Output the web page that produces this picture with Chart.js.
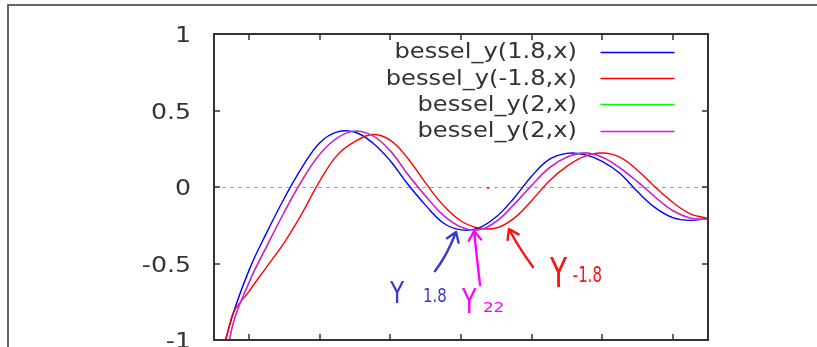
<!DOCTYPE html>
<html>
<head>
<meta charset="utf-8">
<script src="https://cdn.jsdelivr.net/npm/chart.js@4.4.1/dist/chart.umd.min.js"></script>
<style>
  html, body { margin: 0; padding: 0; background: #fff; overflow: hidden; }
  canvas { display: block; }
</style>
</head>
<body>
<canvas id="plot" width="817" height="347"></canvas>
<script>
// sample positions along x and the curve values read at them
const xs = [1, 1.5, 2, 2.5, 3, 3.5, 4, 4.5, 5, 5.5, 6, 6.5, 7, 7.5, 8, 8.5, 9, 9.5, 10,
            10.5, 11, 11.5, 12, 12.5, 13, 13.5, 14, 14.5, 15]
const y18 = [-1.3, -0.86, -0.54, -0.295, -0.07, 0.13, 0.29, 0.36, 0.358, 0.288, 0.17, 0.016, -0.12, -0.235,
             -0.28, -0.268, -0.195, -0.073, 0.07, 0.18, 0.22, 0.212, 0.168, 0.09, -0.03, -0.135, -0.2, -0.218, -0.205]
const yMinus18 = [-1.45, -0.85, -0.68, -0.52, -0.36, -0.17, 0.04, 0.21, 0.298, 0.343, 0.305, 0.185, 0.025, -0.12,
                  -0.222, -0.268, -0.268, -0.205, -0.09, 0.04, 0.135, 0.2, 0.222, 0.195, 0.11, 0.0, -0.1, -0.175, -0.205]
const y2 = [-1.65, -0.93, -0.62, -0.385, -0.16, 0.045, 0.215, 0.322, 0.365, 0.335, 0.235, 0.08, -0.06, -0.185,
            -0.262, -0.28, -0.225, -0.115, 0.01, 0.125, 0.195, 0.222, 0.195, 0.125, 0.035, -0.065, -0.155, -0.203, -0.211]

const seriesLabels = ['bessel_y(1.8,x)', 'bessel_y(-1.8,x)', 'bessel_y(2,x)', 'bessel_y(2,x)']
const seriesColors = ['#0000ff', '#ff0000', '#00ff00', '#ff00ff']
const seriesValues = [y18, yMinus18, y2, y2]

const xTicks = [2, 4, 6, 8, 10, 12, 14]
const yTicks = [-1, -0.5, 0, 0.5, 1]
const yTickLabels = ['-1', '-0.5', '0', '0.5', '1']

// hand-drawn notes, placed in data units
const notes = [
  { color: '#3a3ad0', tail: [7.26, -0.55], bend: [7.6, -0.45], tip: [7.86, -0.294],
    big: 'Y', bigAt: [5.99, -0.758], bigSize: 31, bigScale: 0.75,
    small: '1.8', smallAt: [6.92, -0.752], smallSize: 20, smallScale: 0.75 },
  { color: '#ff00ff', tail: [8.54, -0.641], bend: [8.45, -0.464], tip: [8.37, -0.288],
    big: 'Y', bigAt: [8.03, -0.824], bigSize: 34, bigScale: 0.7,
    small: '22', smallAt: [8.62, -0.817], smallSize: 14, smallScale: 1.2 },
  { color: '#ff1010', tail: [10.04, -0.523], bend: [9.62, -0.392], tip: [9.36, -0.275],
    big: 'Y', bigAt: [10.52, -0.654], bigSize: 40, bigScale: 0.7,
    small: '-1.8', smallAt: [11.17, -0.621], smallSize: 22, smallScale: 0.68 }
]

const FONT = '"DejaVu Sans", sans-serif'

function stretchedText(ctx, text, x, y, size, sx, align) {
  ctx.save()
  ctx.translate(x, y)
  ctx.scale(sx, 1)
  ctx.font = size + 'px ' + FONT
  ctx.textAlign = align
  ctx.textBaseline = 'alphabetic'
  ctx.fillText(text, 0, 0)
  ctx.restore()
}

const gnuplotFrame = {
  id: 'gnuplotFrame',
  beforeDraw(chart) {
    const ctx = chart.ctx
    ctx.save()
    ctx.fillStyle = '#fff'
    ctx.fillRect(0, 0, chart.width, chart.height)
    ctx.strokeStyle = '#666'
    ctx.lineWidth = 2
    ctx.strokeRect(8, 5, chart.width + 50, chart.height + 50)
    ctx.restore()
  },
  beforeDatasetsDraw(chart) {
    const { ctx, chartArea: a, scales: { y } } = chart
    const y0 = Math.round(y.getPixelForValue(0)) + 0.5
    ctx.save()
    ctx.strokeStyle = '#a0a0a0'
    ctx.lineWidth = 1
    ctx.setLineDash([4, 4])
    ctx.beginPath()
    ctx.moveTo(a.left, y0)
    ctx.lineTo(a.right, y0)
    ctx.stroke()
    ctx.restore()
  },
  afterDatasetsDraw(chart) {
    const { ctx, chartArea: a, scales: { x, y } } = chart
    ctx.save()

    // border and inward ticks on all four sides
    ctx.strokeStyle = '#333'
    ctx.lineWidth = 2
    ctx.strokeRect(a.left, a.top, a.right - a.left, a.bottom - a.top)
    ctx.lineWidth = 1.5
    ctx.beginPath()
    xTicks.forEach(v => {
      const px = Math.round(x.getPixelForValue(v))
      ctx.moveTo(px, a.bottom); ctx.lineTo(px, a.bottom - 6)
      ctx.moveTo(px, a.top); ctx.lineTo(px, a.top + 6)
    })
    yTicks.forEach(v => {
      const py = Math.round(y.getPixelForValue(v))
      ctx.moveTo(a.left, py); ctx.lineTo(a.left + 6, py)
      ctx.moveTo(a.right, py); ctx.lineTo(a.right - 6, py)
    })
    ctx.stroke()

    // y tick labels
    ctx.fillStyle = '#333'
    yTicks.forEach((v, i) => {
      stretchedText(ctx, yTickLabels[i], a.left - 23, y.getPixelForValue(v) + 8, 21, 1.2, 'right')
    })

    // key, top right inside the plot
    seriesLabels.forEach((label, i) => {
      const ly = a.top + 17.7 + i * 26.3
      ctx.fillStyle = '#333'
      stretchedText(ctx, label, a.right - 131, ly + 6.7, 21, 1.15, 'right')
      ctx.strokeStyle = seriesColors[i]
      ctx.lineWidth = 1.4
      ctx.beginPath()
      ctx.moveTo(a.right - 107.5, Math.round(ly) + 0.5)
      ctx.lineTo(a.right - 33.5, Math.round(ly) + 0.5)
      ctx.stroke()
    })

    // handwritten arrows and names
    const P = p => [x.getPixelForValue(p[0]), y.getPixelForValue(p[1])]
    notes.forEach(n => {
      const [tx, ty] = P(n.tail), [bx, by] = P(n.bend), [hx, hy] = P(n.tip)
      ctx.strokeStyle = n.color
      ctx.fillStyle = n.color
      ctx.lineWidth = 2.4
      ctx.lineCap = 'round'
      ctx.lineJoin = 'round'
      ctx.beginPath()
      ctx.moveTo(tx, ty)
      ctx.quadraticCurveTo(bx, by, hx, hy)
      const ang = Math.atan2(hy - by, hx - bx)
      ctx.moveTo(hx - 11 * Math.cos(ang - 0.6), hy - 11 * Math.sin(ang - 0.6))
      ctx.lineTo(hx, hy)
      ctx.lineTo(hx - 11 * Math.cos(ang + 0.6), hy - 11 * Math.sin(ang + 0.6))
      ctx.stroke()
      const [gx, gy] = P(n.bigAt), [sx, sy] = P(n.smallAt)
      stretchedText(ctx, n.big, gx, gy, n.bigSize, n.bigScale, 'left')
      stretchedText(ctx, n.small, sx, sy, n.smallSize, n.smallScale, 'left')
    })
    // stray pen dot
    ctx.fillStyle = '#ff00ff'
    ctx.fillRect(x.getPixelForValue(8.77) - 1, y.getPixelForValue(-0.007) - 1, 2, 2)

    ctx.restore()
  }
}

const drawOrder = [3, 2, 1, 0]

new Chart(document.getElementById('plot'), {
  type: 'line',
  data: {
    datasets: seriesLabels.map((label, i) => ({
      label: label,
      data: xs.map((v, j) => ({ x: v, y: seriesValues[i][j] })),
      borderColor: seriesColors[i],
      borderWidth: 1.4,
      pointRadius: 0,
      tension: 0.4,
      fill: false,
      order: drawOrder[i]
    }))
  },
  options: {
    responsive: false,
    animation: false,
    devicePixelRatio: 1,
    events: [],
    layout: { padding: { left: 214, top: 34, right: 109, bottom: 7 } },
    plugins: { legend: { display: false }, tooltip: { enabled: false } },
    scales: {
      x: { type: 'linear', min: 1, max: 15, display: false },
      y: { type: 'linear', min: -1, max: 1, display: false }
    }
  },
  plugins: [gnuplotFrame]
})
</script>
</body>
</html>
